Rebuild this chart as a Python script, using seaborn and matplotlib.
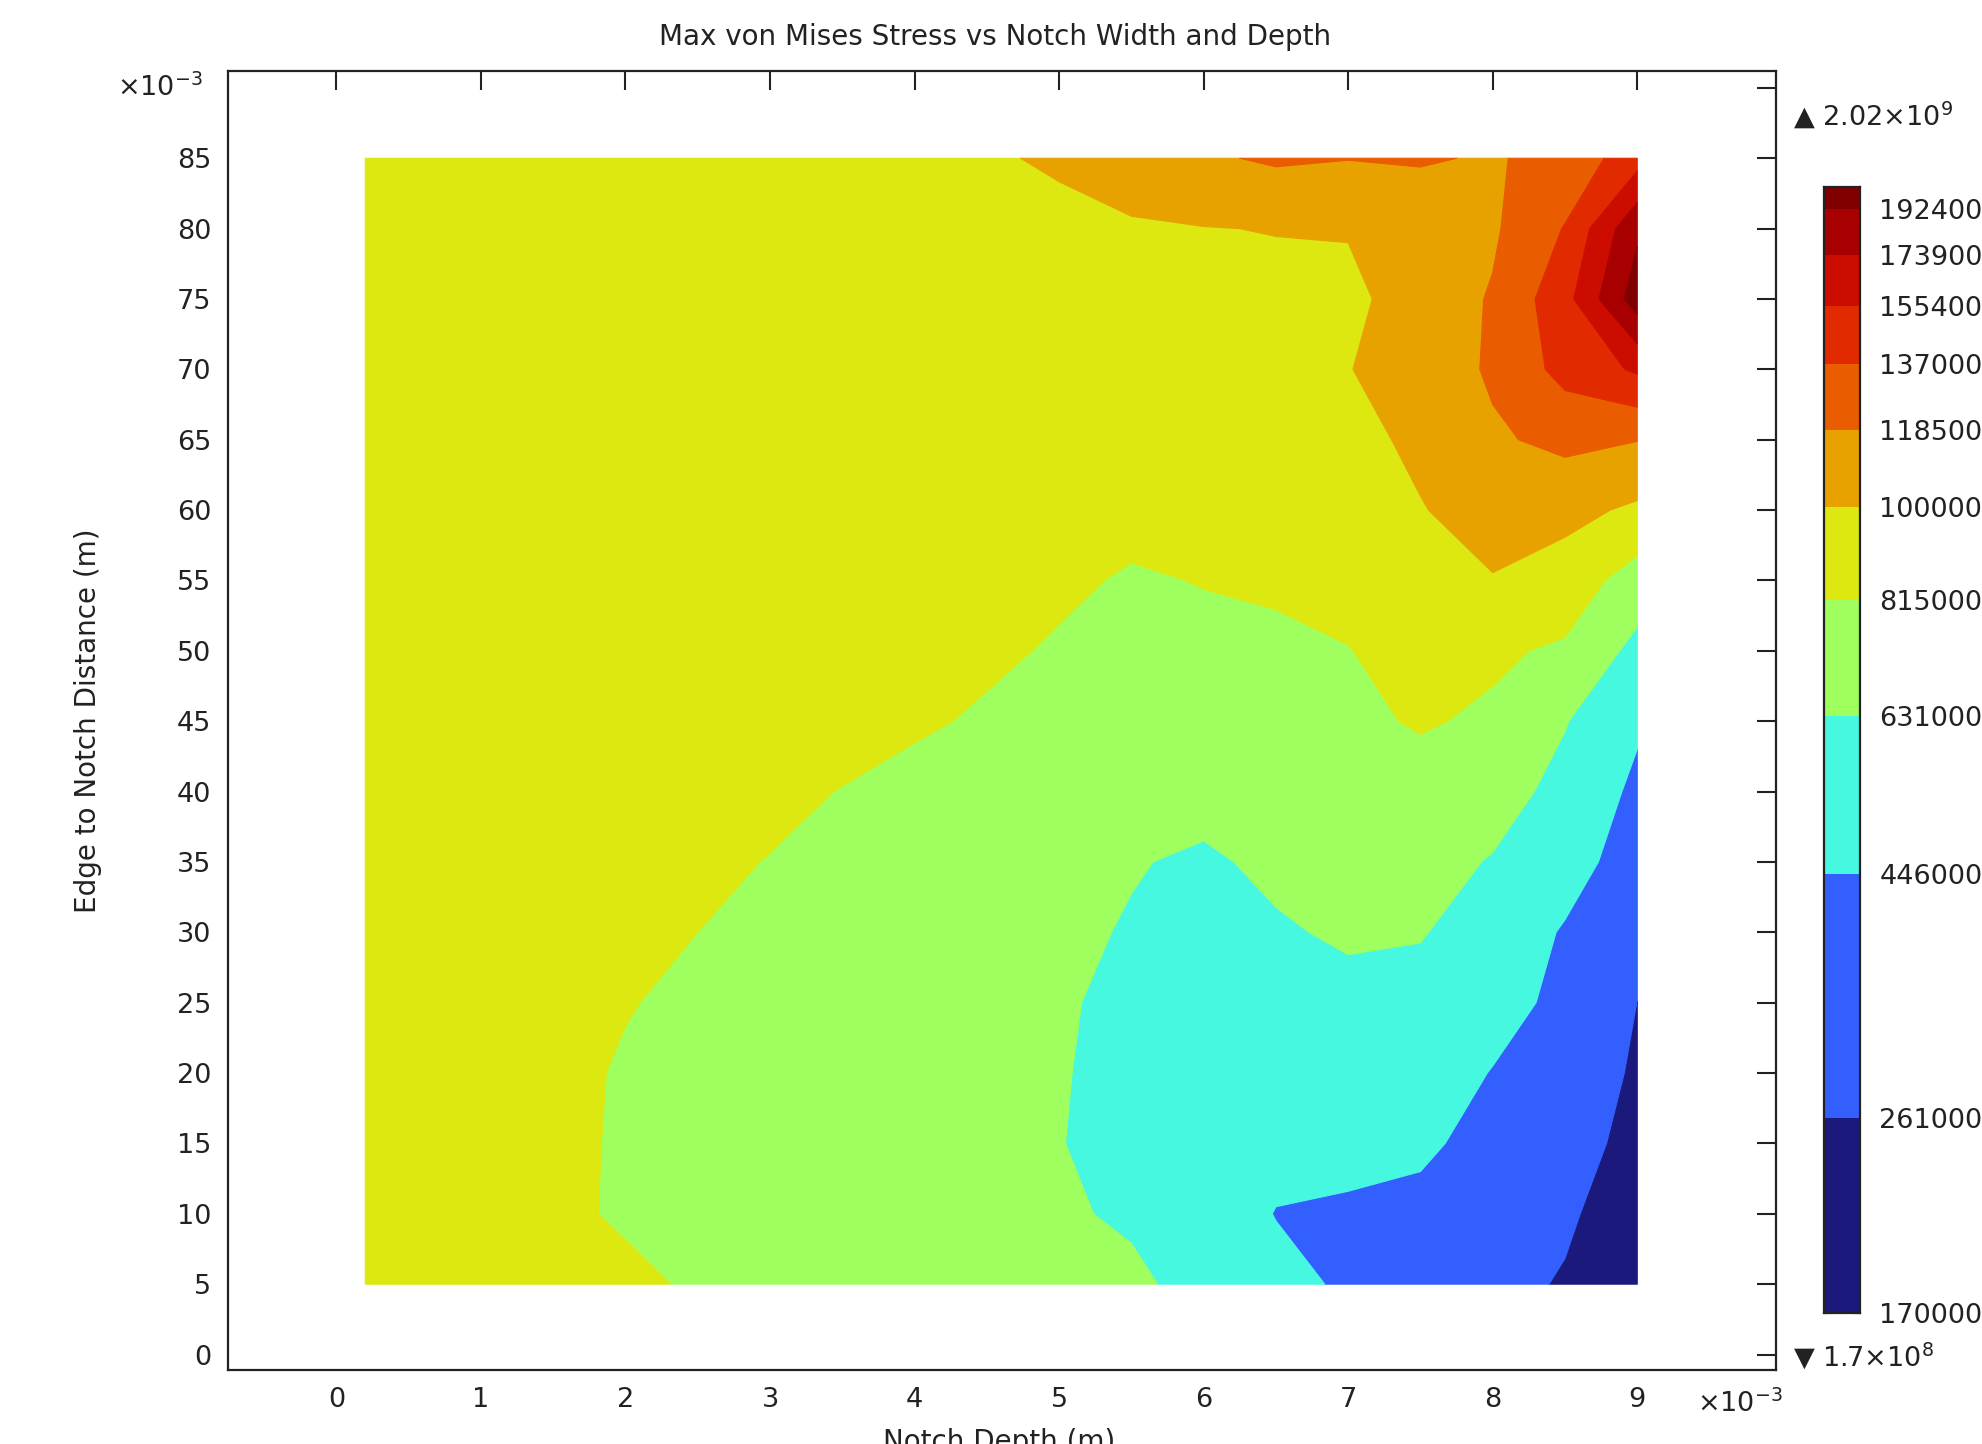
import numpy as np
import matplotlib
matplotlib.use("Agg")
import matplotlib.pyplot as plt
import seaborn as sns
from matplotlib.ticker import FixedLocator, FuncFormatter, NullLocator

# ---------------- data ----------------
notch_depth_mm = [0.2, 1, 2, 3, 4, 5, 5.5, 6, 6.5, 7, 7.5, 8, 8.5, 9]
edge_dist_mm = [5, 10, 15, 20, 25, 30, 35, 40, 45, 50, 55, 60, 65, 70, 75, 80, 85]
STRESS_UNIT = 1e8  # Pa

# stress columns (x = notch depth), values from y = 5 mm to 85 mm, in 1e8 Pa
s_x0_2 = [9.1, 9.1, 9.1, 9.1, 9.1, 9.1, 9.1, 9.1, 9.2, 9.2, 9.2, 9.2, 9.2, 9.3, 9.3, 9.3, 9.3]
s_x1 = [8.8, 8.8, 8.8, 8.8, 8.9, 8.9, 9.0, 9.0, 9.1, 9.1, 9.1, 9.2, 9.2, 9.2, 9.3, 9.3, 9.3]
s_x2 = [8.4, 8.0, 8.02, 8.05, 8.2, 8.5, 8.8, 9.0, 9.1, 9.1, 9.2, 9.2, 9.2, 9.3, 9.3, 9.3, 9.4]
s_x3 = [7.6, 7.6, 7.6, 7.6, 7.7, 7.8, 8.1, 8.5, 9.0, 9.2, 9.2, 9.2, 9.3, 9.3, 9.3, 9.4, 9.4]
s_x4 = [7.3, 7.2, 7.1, 7.1, 7.1, 7.2, 7.4, 7.7, 8.35, 8.8, 9.0, 9.1, 9.2, 9.2, 9.3, 9.4, 9.45]
s_x5 = [6.8, 6.5, 6.35, 6.4, 6.45, 6.6, 6.8, 7.2, 7.6, 8.0, 8.4, 8.9, 9.1, 9.2, 9.3, 9.6, 10.2]
s_x5_5 = [6.6, 6.1, 5.9, 5.9, 6.0, 6.2, 6.4, 7.0, 7.4, 7.7, 8.0, 8.6, 9.0, 9.2, 9.4, 9.85, 10.7]
s_x6 = [5.8, 5.6, 5.5, 5.5, 5.6, 5.8, 6.1, 6.8, 7.2, 7.8, 8.2, 8.9, 9.2, 9.4, 9.6, 9.95, 11.6]
s_x6_5 = [5.0, 4.4, 5.0, 5.3, 5.7, 6.15, 6.6, 7.2, 7.6, 7.8, 8.4, 8.9, 9.2, 9.4, 9.6, 10.05, 12.1]
s_x7 = [4.2, 4.3, 4.8, 5.2, 5.9, 6.5, 6.9, 7.4, 7.8, 8.1, 8.7, 9.1, 9.4, 9.95, 9.6, 10.1, 11.9]
s_x7_5 = [3.6, 4.1, 4.7, 5.2, 5.8, 6.4, 6.9, 7.5, 8.3, 8.8, 9.3, 9.9, 10.4, 10.7, 10.8, 10.8, 12.0]
s_x8 = [3.0, 3.4, 4.0, 4.4, 5.0, 5.6, 6.2, 7.0, 7.9, 8.4, 9.9, 10.8, 11.6, 12.1, 12.0, 11.6, 11.7]
s_x8_5 = [2.5, 2.8, 3.3, 3.8, 4.1, 4.3, 5.2, 5.8, 6.4, 7.9, 9.2, 10.5, 12.3, 14.3, 14.9, 13.8, 12.4]
s_x9 = [1.7, 1.9, 2.1, 2.35, 2.6, 3.1, 3.6, 4.1, 4.7, 5.8, 7.3, 9.7, 11.9, 15.8, 20.2, 18.9, 14.8]

stress_columns = [s_x0_2, s_x1, s_x2, s_x3, s_x4, s_x5, s_x5_5, s_x6,
                  s_x6_5, s_x7, s_x7_5, s_x8, s_x8_5, s_x9]

level_values = [170000000, 261000000, 446000000, 631000000, 815000000, 1000000000,
                1185000000, 1370000000, 1554000000, 1739000000, 1924000000, 2020000000]
band_colors = ["#1b1a7c", "#335fff", "#47f8e1", "#9eff5e", "#dde811", "#e8a200",
               "#ea5c00", "#e22a00", "#cd0c00", "#a80000", "#800000"]

title_text = "Max von Mises Stress vs Notch Width and Depth"
xlabel_text = "Notch Depth (m)"
ylabel_text = "Edge to Notch Distance (m)"

# ---------------- figure ----------------
sns.set_theme(style="white")
plt.rcParams['font.family'] = ['DejaVu Sans']
FS = 20
TFS = 19.5
TXT = "#222222"

W, H = 1983, 1444
fig = plt.figure(figsize=(W / 100, H / 100), dpi=100)
fig.patch.set_facecolor("white")

ax = fig.add_axes([228 / W, 1 - 1370 / H, (1776 - 228) / W, (1370 - 71) / H])
ax.set_facecolor("white")

X, Y = np.meshgrid(np.array(notch_depth_mm) * 1e-3, np.array(edge_dist_mm) * 1e-3)
Z = np.column_stack(stress_columns) * STRESS_UNIT
cs = ax.contourf(X, Y, Z, levels=level_values, colors=band_colors, antialiased=True)
try:
    cs.set_edgecolor("face")
    cs.set_linewidth(0.8)
except Exception:
    pass

ax.set_xlim(-0.75e-3, 9.96e-3)
ax.set_ylim(-1.1e-3, 91.2e-3)

xt = [i * 1e-3 for i in range(10)]
yt = [i * 5e-3 for i in range(19)]
ax.xaxis.set_major_locator(FixedLocator(xt))
ax.yaxis.set_major_locator(FixedLocator(yt))
ax.xaxis.set_minor_locator(NullLocator())
ax.yaxis.set_minor_locator(NullLocator())
ax.xaxis.set_major_formatter(FuncFormatter(lambda v, p: f"{v * 1e3:.0f}"))
ax.yaxis.set_major_formatter(FuncFormatter(lambda v, p: "" if v * 1e3 > 87 else f"{v * 1e3:.0f}"))
ax.tick_params(axis="both", which="major", direction="in", length=14, width=1.5,
               top=True, right=True, labelsize=TFS, colors="#222222", labelcolor=TXT, pad=12)
for sp in ax.spines.values():
    sp.set_color("#222222")
    sp.set_linewidth(1.6)

fig.text(995 / W, 1 - 37 / H, title_text, ha="center", va="center", fontsize=FS, color=TXT)
fig.text(88 / W, 1 - 721 / H, ylabel_text, ha="center", va="center", rotation=90,
         fontsize=FS, color=TXT)
fig.text(999 / W, 1 - 1428 / H, xlabel_text, ha="center", va="top", fontsize=FS, color=TXT)
fig.text(160 / W, 1 - 88 / H, r"$\times10^{-3}$", ha="center", va="center", fontsize=TFS, color=TXT)
fig.text(1740 / W, 1 - 1404 / H, r"$\times10^{-3}$", ha="center", va="center", fontsize=TFS, color=TXT)

# ---------------- colorbar (log scaled) ----------------
cax = fig.add_axes([1824 / W, 1 - 1313 / H, (1860 - 1824) / W, (1313 - 187) / H])
cax.set_yscale("log")
lv = np.array(level_values, dtype=float)
cax.bar(0.5, lv[1:] - lv[:-1], bottom=lv[:-1], width=1.0, color=band_colors,
        edgecolor="none", linewidth=0)
cax.set_xlim(0, 1)
cax.set_ylim(lv[0], lv[-1])
cax.set_xticks([])
cax.yaxis.set_major_locator(FixedLocator(list(lv[:-1])))
cax.yaxis.set_minor_locator(NullLocator())
cax.yaxis.set_major_formatter(FuncFormatter(lambda v, p: f"{int(round(v))}"))
cax.tick_params(axis="y", which="major", direction="in", length=6, width=1.5,
                left=True, right=True, labelleft=False, labelright=True,
                labelsize=TFS, colors="#222222", labelcolor=TXT, pad=14)
for sp in cax.spines.values():
    sp.set_color("#222222")
    sp.set_linewidth(1.6)

fig.text(1793 / W, 1 - 116 / H, "\u25B2 " + r"$2.02{\times}10^{9}$", ha="left", va="center",
         fontsize=TFS, color=TXT)
fig.text(1793 / W, 1 - 1357 / H, "\u25BC " + r"$1.7{\times}10^{8}$", ha="left", va="center",
         fontsize=TFS, color=TXT)

fig.savefig("out.png", dpi=100, facecolor="white")
